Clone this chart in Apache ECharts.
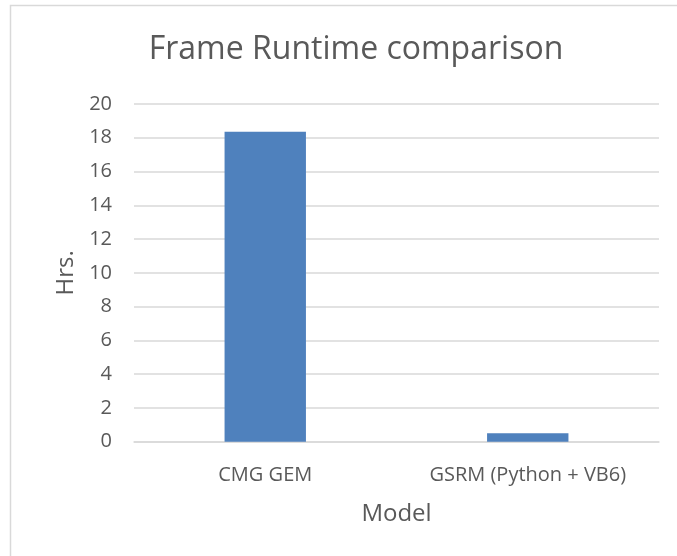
<!DOCTYPE html>
<html><head><meta charset="utf-8">
<script src="https://cdn.jsdelivr.net/npm/echarts@6/dist/echarts.min.js"></script>
<style>html,body{margin:0;padding:0;background:#fff;}#c{width:677px;height:556px;}</style>
</head><body><div id="c"></div>
<script>
const categories = ["CMG GEM", "GSRM (Python + VB6)"];
const hours = [18.35, 0.5];
const yTicks = [0, 2, 4, 6, 8, 10, 12, 14, 16, 18, 20];

const chart = echarts.init(document.getElementById('c'), null, {renderer: 'canvas'});
const font = 'Open Sans, Calibri, sans-serif';
chart.setOption({
  animation: false,
  backgroundColor: '#fff',
  graphic: [{
    type: 'polyline', shape: {points: [[10.5, 560], [10.5, 5.5], [690, 5.5]]},
    style: {stroke: '#d9d9d9', lineWidth: 1.5, fill: null}, silent: true
  }],
  title: {
    text: 'Frame Runtime comparison', left: 351, top: 29, textAlign: 'center',
    textStyle: {fontFamily: font, fontSize: 32, fontWeight: 'normal', color: '#595959'}
  },
  grid: {left: 134, right: 18, top: 104, bottom: 114.3, containLabel: false},
  xAxis: {
    type: 'category', data: categories,
    name: 'Model', nameLocation: 'middle', nameGap: 60,
    nameTextStyle: {fontFamily: font, fontSize: 24, color: '#595959'},
    axisLine: {show: true, lineStyle: {color: '#d9d9d9', width: 1.5}},
    axisTick: {show: false},
    axisLabel: {fontFamily: font, fontSize: 20, color: '#595959', margin: 24,
      interval: 0, hideOverlap: false}
  },
  yAxis: {
    type: 'value', min: 0, max: 20, interval: 2,
    name: 'Hrs.', nameLocation: 'middle', nameGap: 56,
    nameTextStyle: {fontFamily: font, fontSize: 24, color: '#595959'},
    axisLine: {show: false}, axisTick: {show: false},
    axisLabel: {fontFamily: font, fontSize: 20, color: '#595959', margin: 22,
      formatter: v => yTicks.includes(v) ? String(v) : ''},
    splitLine: {lineStyle: {color: '#d9d9d9', width: 1.5}}
  },
  series: [{
    type: 'bar', data: hours, barWidth: '31%',
    itemStyle: {color: '#4f81bd'}
  }]
});
</script></body></html>
